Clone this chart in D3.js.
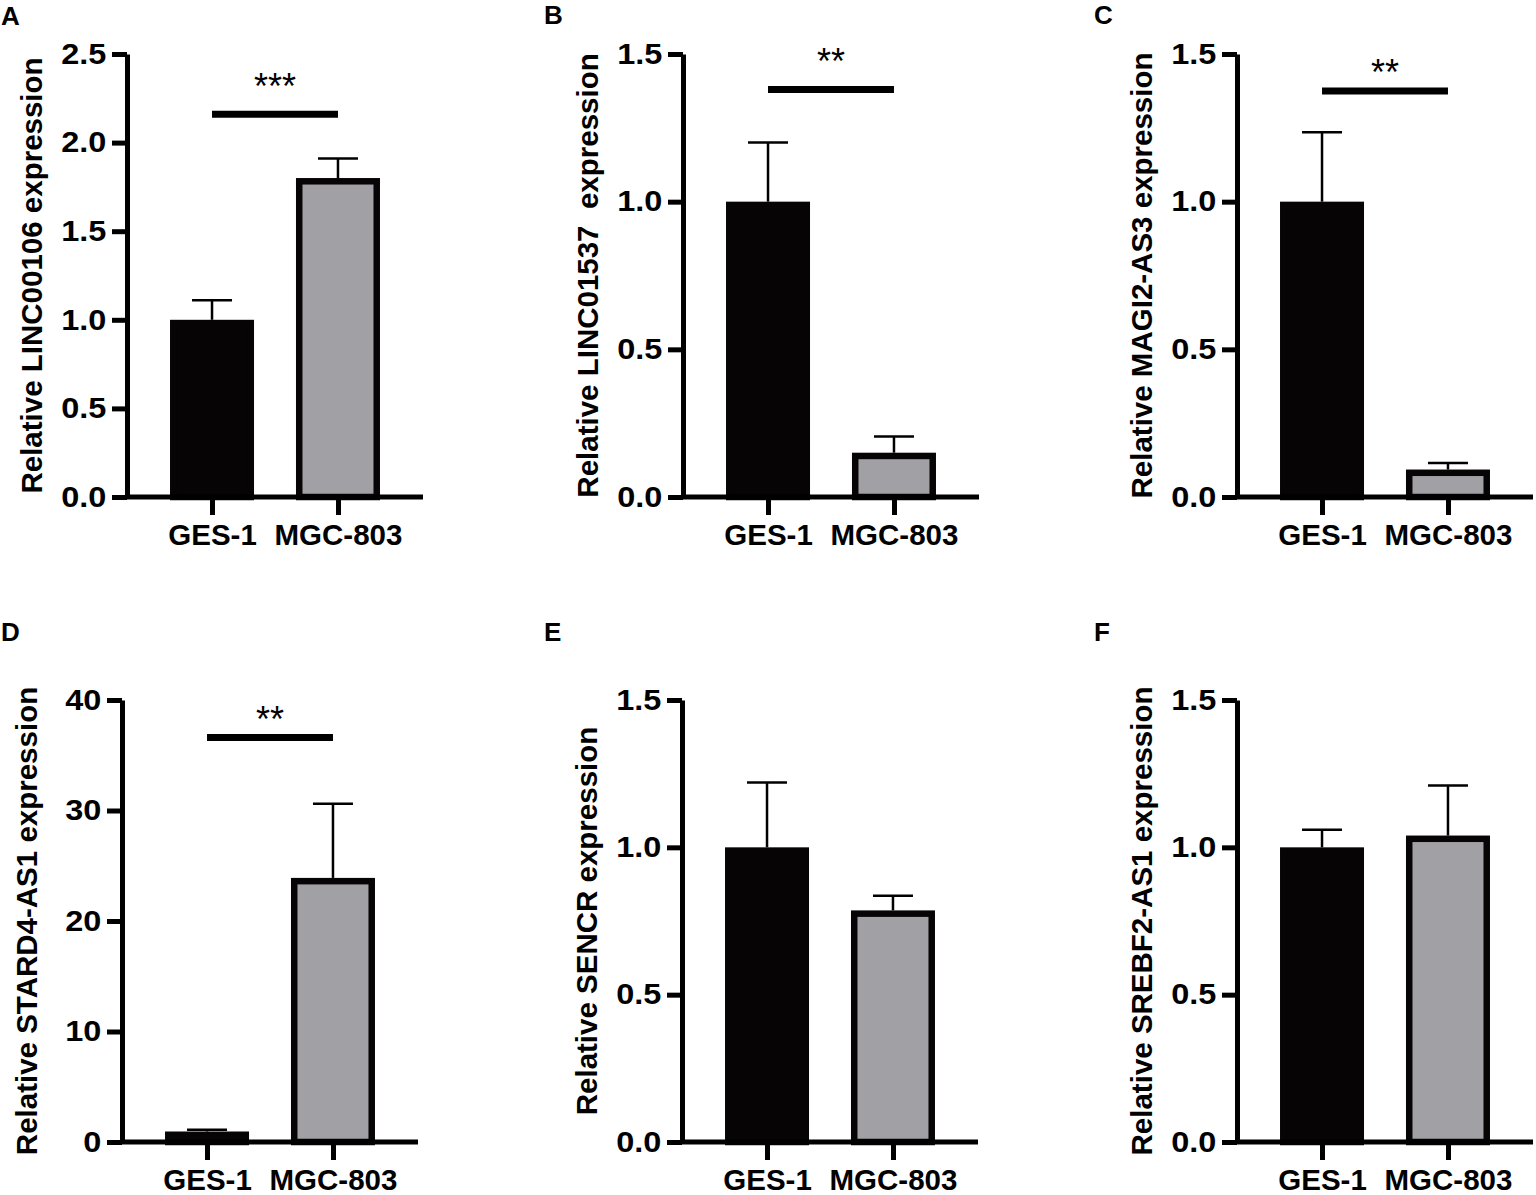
<!DOCTYPE html>
<html>
<head>
<meta charset="utf-8">
<script src="https://cdn.jsdelivr.net/npm/d3@7"></script>
<style>
  body { margin: 0; background: #fff; }
  svg { display: block; font-family: "Liberation Sans", Arial, sans-serif; }
  .axis text { font-size: 29px; font-weight: bold; fill: #000; }
  .xaxis text { font-size: 29.5px; }
  .ytitle { font-size: 29.5px; font-weight: bold; white-space: pre; }
  .letter { font-size: 26px; font-weight: bold; }
  .stars { font-size: 36px; }
</style>
</head>
<body>
<div id="chart"></div>
<script>
// data
const groups = ["GES-1", "MGC-803"];
const panelLetters = ["A", "B", "C", "D", "E", "F"];
const yTitles = [
    "Relative LINC00106 expression",
    "Relative LINC01537  expression",
    "Relative MAGI2-AS3 expression",
    "Relative STARD4-AS1 expression",
    "Relative SENCR expression",
    "Relative SREBF2-AS1 expression"
];
const means = [
    [1.00, 1.80],
    [1.00, 0.15],
    [1.00, 0.093],
    [0.95, 23.9],
    [1.00, 0.786],
    [1.00, 1.04]
];
const errors = [
    [0.11, 0.11],
    [0.20, 0.055],
    [0.235, 0.022],
    [0.15, 6.7],
    [0.22, 0.05],
    [0.06, 0.17]
];
const yMaxes = [2.5, 1.5, 1.5, 40, 1.5, 1.5];
const yTicks = [
    [0, 0.5, 1.0, 1.5, 2.0, 2.5],
    [0, 0.5, 1.0, 1.5],
    [0, 0.5, 1.0, 1.5],
    [0, 10, 20, 30, 40],
    [0, 0.5, 1.0, 1.5],
    [0, 0.5, 1.0, 1.5]
];
const sigLabels = ["***", "**", "**", "**", null, null];
const sigLevels = [2.16, 1.38, 1.375, 36.6, null, null];

// layout
const width = 1536, height = 1195;
const axisXs = [127, 683, 1237, 122, 682, 1237];
const rows = [{top: 54, bottom: 497}, {top: 700, bottom: 1142}];
const letterPos = [[1, 25], [544, 24], [1094, 24], [1, 641], [544, 641], [1094, 641]];
const starGap = [36, 36, 27, 26, 0, 0];
const axisLen = 296, barW = 84, barStroke = 6.5, capW = 40;
const fillColors = ["#070405", "#a1a1a5"];

const svg = d3.select("#chart").append("svg")
    .attr("width", width)
    .attr("height", height)
    .attr("viewBox", [0, 0, width, height]);

for (let i = 0; i < 6; i++) {
    const row = rows[Math.floor(i / 3)];
    const x0 = axisXs[i];
    const g = svg.append("g");

    const yScale = d3.scaleLinear()
        .domain([0, yMaxes[i]])
        .range([row.bottom, row.top]);

    const xScale = d3.scalePoint()
        .domain(groups)
        .range([x0, x0 + axisLen])
        .padding(0.675);

    const fmt = yMaxes[i] >= 10 ? d3.format("d") : d3.format(".1f");

    // bars
    g.selectAll(".bar")
        .data(groups)
        .join("rect")
        .attr("class", "bar")
        .attr("x", (d) => xScale(d) - barW / 2 + barStroke / 2)
        .attr("width", barW - barStroke)
        .attr("y", (d, j) => yScale(means[i][j]) + barStroke / 2)
        .attr("height", (d, j) => Math.max(0, yScale(0) - yScale(means[i][j]) - barStroke / 2))
        .attr("fill", (d, j) => fillColors[j])
        .attr("stroke", "#070405")
        .attr("stroke-width", barStroke);

    // error bars, upper half only
    groups.forEach((d, j) => {
        const cx = xScale(d);
        const yTop = yScale(means[i][j] + errors[i][j]);
        g.append("line")
            .attr("x1", cx).attr("x2", cx)
            .attr("y1", yScale(means[i][j]))
            .attr("y2", yTop)
            .attr("stroke", "#000")
            .attr("stroke-width", 2.5);
        g.append("line")
            .attr("x1", cx - capW / 2).attr("x2", cx + capW / 2)
            .attr("y1", yTop).attr("y2", yTop)
            .attr("stroke", "#000")
            .attr("stroke-width", 2.5);
    });

    // axes
    const yAxis = g.append("g")
        .attr("class", "axis")
        .attr("transform", `translate(${x0},0)`)
        .call(d3.axisLeft(yScale)
            .tickValues(yTicks[i])
            .tickSize(15)
            .tickSizeOuter(0)
            .tickPadding(3.5)
            .tickFormat(fmt));
    yAxis.selectAll("text").attr("transform", "scale(1.12,1)");

    const xAxis = g.append("g")
        .attr("class", "axis xaxis")
        .attr("transform", `translate(0,${row.bottom})`)
        .call(d3.axisBottom(xScale)
            .tickSize(18)
            .tickSizeOuter(0)
            .tickPadding(9));
    xAxis.select(".domain").attr("d", `M${x0},0H${x0 + axisLen}`);

    g.selectAll(".axis path, .axis line")
        .attr("stroke", "#000")
        .attr("stroke-width", 5);

    // y title
    g.append("text")
        .attr("class", "ytitle")
        .attr("text-anchor", "middle")
        .attr("transform", `translate(${x0 - 85},${(row.top + row.bottom) / 2}) rotate(-90)`)
        .text(yTitles[i]);

    // significance
    if (sigLabels[i]) {
        const ySig = yScale(sigLevels[i]);
        g.append("line")
            .attr("x1", xScale(groups[0])).attr("x2", xScale(groups[1]))
            .attr("y1", ySig).attr("y2", ySig)
            .attr("stroke", "#000")
            .attr("stroke-width", 7);
        g.append("text")
            .attr("class", "stars")
            .attr("text-anchor", "middle")
            .attr("x", (xScale(groups[0]) + xScale(groups[1])) / 2)
            .attr("y", ySig - starGap[i] + 0.58 * 36)
            .text(sigLabels[i]);
    }

    svg.append("text")
        .attr("class", "letter")
        .attr("x", letterPos[i][0])
        .attr("y", letterPos[i][1])
        .text(panelLetters[i]);
}
</script>
</body>
</html>
